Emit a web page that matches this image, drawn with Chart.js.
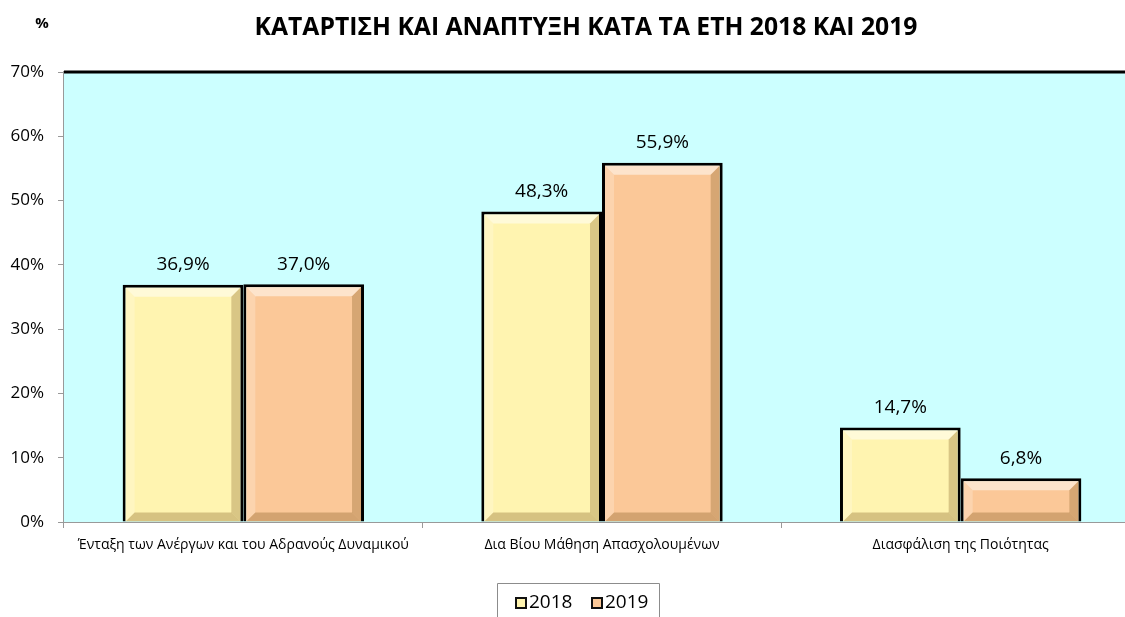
<!DOCTYPE html>
<html>
<head>
<meta charset="utf-8">
<script src="https://cdn.jsdelivr.net/npm/chart.js@4.4.1/dist/chart.umd.min.js"></script>
<style>
  html, body { margin: 0; padding: 0; background: #ffffff; overflow: hidden; }
  #wrap { width: 1140px; height: 617px; }
</style>
</head>
<body>
<div id="wrap"><canvas id="c" width="1140" height="617"></canvas></div>
<script>
// ---- data ----
const categories = [
  'Ένταξη των Ανέργων και του Αδρανούς Δυναμικού',
  'Δια Βίου Μάθηση Απασχολουμένων',
  'Διασφάλιση της Ποιότητας'
];
const seriesNames = ['2018', '2019'];
const values2018 = [36.9, 48.3, 14.7];
const values2019 = [37.0, 55.9, 6.8];
const yTickValues = [0, 10, 20, 30, 40, 50, 60, 70];
const chartTitle = 'ΚΑΤΑΡΤΙΣΗ ΚΑΙ ΑΝΑΠΤΥΞΗ ΚΑΤΑ ΤΑ ΕΤΗ 2018 ΚΑΙ 2019';
const unitLabel = '%';

const FONT = "'Open Sans', 'DejaVu Sans', sans-serif";
const fmt = v => v.toFixed(1).replace('.', ',') + '%';

const bgPlugin = {
  id: 'bgPlugin',
  beforeDatasetsDraw(chart) {
    const { ctx, chartArea: a } = chart;
    ctx.save();
    ctx.fillStyle = '#CCFFFF';
    ctx.fillRect(a.left, a.top, a.right - a.left, a.bottom - a.top);
    ctx.strokeStyle = '#000000';
    ctx.lineWidth = 3;
    ctx.beginPath();
    ctx.moveTo(a.left, a.top);
    ctx.lineTo(a.right, a.top);
    ctx.stroke();
    ctx.restore();
  }
};

const bevelPlugin = {
  id: 'bevelPlugin',
  afterDatasetsDraw(chart) {
    const ctx = chart.ctx;
    chart.data.datasets.forEach((ds, di) => {
      chart.getDatasetMeta(di).data.forEach(bar => {
        const half = bar.width / 2;
        const L = bar.x - half + 3, R = bar.x + half - 3, T = bar.y + 3, B = bar.base;
        const b = Math.min(9, (B - T) / 2, (R - L) / 2);
        ctx.save();
        // top highlight
        ctx.fillStyle = 'rgba(255,255,255,0.5)';
        ctx.beginPath();
        ctx.moveTo(L, T); ctx.lineTo(R, T); ctx.lineTo(R - b, T + b); ctx.lineTo(L + b, T + b); ctx.closePath(); ctx.fill();
        // left light
        ctx.fillStyle = 'rgba(255,255,255,0.22)';
        ctx.beginPath();
        ctx.moveTo(L, T); ctx.lineTo(L + b, T + b); ctx.lineTo(L + b, B - b); ctx.lineTo(L, B); ctx.closePath(); ctx.fill();
        // right shadow
        ctx.fillStyle = 'rgba(120,80,20,0.28)';
        ctx.beginPath();
        ctx.moveTo(R, T); ctx.lineTo(R, B); ctx.lineTo(R - b, B - b); ctx.lineTo(R - b, T + b); ctx.closePath(); ctx.fill();
        // bottom shadow
        ctx.fillStyle = 'rgba(120,80,20,0.3)';
        ctx.beginPath();
        ctx.moveTo(L, B); ctx.lineTo(R, B); ctx.lineTo(R - b, B - b); ctx.lineTo(L + b, B - b); ctx.closePath(); ctx.fill();
        ctx.restore();
      });
    });
  }
};

const labelPlugin = {
  id: 'labelPlugin',
  afterDatasetsDraw(chart) {
    const ctx = chart.ctx;
    ctx.save();
    ctx.font = '19px ' + FONT;
    ctx.fillStyle = '#000000';
    ctx.textAlign = 'center';
    ctx.textBaseline = 'middle';
    chart.data.datasets.forEach((ds, di) => {
      chart.getDatasetMeta(di).data.forEach((bar, i) => {
        ctx.fillText(fmt(ds.data[i]), bar.x, bar.y - 20);
      });
    });
    ctx.restore();
  }
};

const textPlugin = {
  id: 'textPlugin',
  afterDraw(chart) {
    const ctx = chart.ctx;
    ctx.save();
    ctx.fillStyle = '#000000';
    ctx.textBaseline = 'middle';
    // title fitted to reference width
    let size = 22;
    ctx.font = 'bold ' + size + 'px ' + FONT;
    const w = ctx.measureText(chartTitle).width;
    size = size * 663 / w;
    ctx.font = 'bold ' + size.toFixed(2) + 'px ' + FONT;
    ctx.textAlign = 'center';
    ctx.fillText(chartTitle, 586, 28);
    // unit
    ctx.font = 'bold 15px ' + FONT;
    ctx.fillText(unitLabel, 42, 24);
    // legend box
    ctx.strokeStyle = '#8c8c8c';
    ctx.lineWidth = 1;
    ctx.beginPath();
    ctx.moveTo(497.5, 630); ctx.lineTo(497.5, 583.5); ctx.lineTo(659.5, 583.5); ctx.lineTo(659.5, 630);
    ctx.stroke();
    ctx.font = '19px ' + FONT;
    ctx.textAlign = 'left';
    const items = [{x: 515}, {x: 591}];
    chart.data.datasets.forEach((ds, di) => {
      const x = items[di].x;
      ctx.fillStyle = '#111111';
      ctx.fillRect(x, 597, 12, 12);
      ctx.fillStyle = ds.backgroundColor;
      ctx.fillRect(x + 2, 599, 8, 8);
      ctx.fillStyle = '#000000';
      ctx.fillText(ds.label, x + 14, 603);
    });
    ctx.restore();
  }
};

new Chart(document.getElementById('c'), {
  type: 'bar',
  data: {
    labels: categories,
    datasets: [
      { label: seriesNames[0], data: values2018, backgroundColor: '#FFF4B0', borderColor: '#000000', borderWidth: 3 },
      { label: seriesNames[1], data: values2019, backgroundColor: '#FBC898', borderColor: '#000000', borderWidth: 3 }
    ]
  },
  options: {
    responsive: false,
    animation: false,
    devicePixelRatio: 1,
    categoryPercentage: 0.673,
    barPercentage: 1.0,
    layout: { padding: { top: 72, left: 0, right: 0, bottom: 0 } },
    plugins: { legend: { display: false }, title: { display: false }, tooltip: { enabled: false } },
    scales: {
      x: {
        grid: { offset: true, drawOnChartArea: false, tickLength: 6, color: '#999999', lineWidth: 1 },
        border: { color: '#999999', width: 2 },
        ticks: { color: '#000000', font: { family: FONT, size: 14 }, padding: 9, maxRotation: 0, autoSkip: false },
        afterFit(scale) { scale.height = 95; }
      },
      y: {
        min: 0, max: 70,
        afterBuildTicks(scale) { scale.ticks = yTickValues.map(v => ({ value: v })); },
        grid: { drawOnChartArea: false, tickLength: 6, color: '#999999', lineWidth: 1 },
        border: { color: '#999999', width: 2 },
        ticks: { color: '#000000', font: { family: FONT, size: 17 }, padding: 14, callback: v => v + '%' },
        afterFit(scale) { scale.width = 64; }
      }
    }
  },
  plugins: [bgPlugin, bevelPlugin, labelPlugin, textPlugin]
});
</script>
</body>
</html>
